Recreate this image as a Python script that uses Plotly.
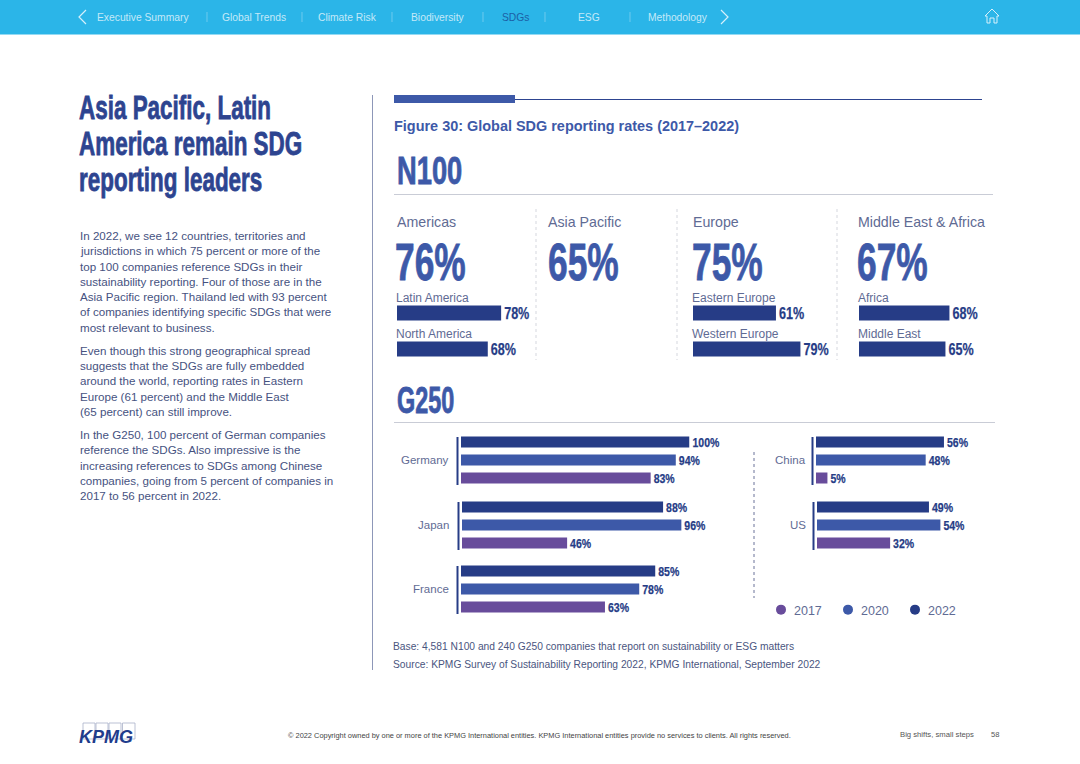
import plotly.graph_objects as go

# ---- data ----
regions = ["Americas", "Asia Pacific", "Europe", "Middle East & Africa"]
region_rates = [76, 65, 75, 67]
sub_regions = [["Latin America", "North America"], [], ["Eastern Europe", "Western Europe"], ["Africa", "Middle East"]]
sub_rates = [[78, 68], [], [61, 79], [68, 65]]
countries = ["Germany", "Japan", "France", "China", "US"]
years = ["2017", "2020", "2022"]
rates_2017 = [83, 46, 63, 5, 32]
rates_2020 = [94, 96, 78, 48, 54]
rates_2022 = [100, 88, 85, 56, 49]
nav_items = ["Executive Summary", "Global Trends", "Climate Risk", "Biodiversity", "SDGs", "ESG", "Methodology"]
body_lines = [
    "In 2022, we see 12 countries, territories and", "jurisdictions in which 75 percent or more of the",
    "top 100 companies reference SDGs in their", "sustainability reporting. Four of those are in the",
    "Asia Pacific region. Thailand led with 93 percent", "of companies identifying specific SDGs that were",
    "most relevant to business.", None,
    "Even though this strong geographical spread", "suggests that the SDGs are fully embedded",
    "around the world, reporting rates in Eastern", "Europe (61 percent) and the Middle East",
    "(65 percent) can still improve.", None,
    "In the G250, 100 percent of German companies", "reference the SDGs. Also impressive is the",
    "increasing references to SDGs among Chinese", "companies, going from 5 percent of companies in",
    "2017 to 56 percent in 2022.",
]

# ---- styling ----
W, H = 1080, 764
NAVY, BLUE, PURPLE, CYAN = "#263c86", "#3d59a8", "#684c9b", "#2bb5e8"
HEAD = "#2d4490"
GREY = "#5f6b94"
NARROW = "Liberation Sans, Arimo"   # squeezed horizontally in post_script below
SANS = "Liberation Sans"

fx = lambda p: p / W
fy = lambda p: 1 - p / H
ann, shapes = [], []


def T(x, y, text, size, color=GREY, font=SANS, anchor="left", bold=False, italic=False):
    f = dict(size=size, color=color, family=font)
    if bold:
        f["weight"] = 700
    if italic:
        f["style"] = "italic"
    ann.append(dict(x=fx(x), y=fy(y), xref="paper", yref="paper", text=text, showarrow=False,
                    xanchor=anchor, yanchor="middle", font=f, borderpad=0, borderwidth=0))


def R(x0, y0, x1, y1, fill=None, line=None, lw=0):
    s = dict(type="rect", xref="paper", yref="paper", x0=fx(x0), x1=fx(x1), y0=fy(y0), y1=fy(y1), layer="below")
    s["fillcolor"] = fill or "rgba(0,0,0,0)"
    s["line"] = dict(color=line or "rgba(0,0,0,0)", width=lw)
    shapes.append(s)


def L(x0, y0, x1, y1, color, w=1, dash="solid"):
    shapes.append(dict(type="line", xref="paper", yref="paper", x0=fx(x0), x1=fx(x1), y0=fy(y0), y1=fy(y1),
                       line=dict(color=color, width=w, dash=dash), layer="below"))


fig = go.Figure()
axes = {}
n_ax = 0


def panel(cats, vals, colors, x0, px_per_pct, top, bottom, bar_frac, tsize):
    global n_ax
    n_ax += 1
    sfx = "" if n_ax == 1 else str(n_ax)
    fig.add_trace(go.Bar(
        x=vals, y=cats, orientation="h", marker=dict(color=colors, line=dict(width=0)),
        width=bar_frac, text=[f"{v}%" for v in vals], textposition="outside", cliponaxis=False,
        constraintext="none",
        textfont=dict(family=NARROW, size=tsize, color=NAVY, weight=700),
        showlegend=False, hoverinfo="skip", xaxis=f"x{sfx}", yaxis=f"y{sfx}",
    ))
    axes[f"xaxis{sfx}"] = dict(domain=[fx(x0), fx(x0 + 100 * px_per_pct)], range=[0, 100], visible=False,
                               anchor=f"y{sfx}", fixedrange=True)
    axes[f"yaxis{sfx}"] = dict(domain=[fy(bottom), fy(top)], type="category", categoryorder="array",
                               categoryarray=cats, range=[len(cats) - 0.5, -0.5], visible=False,
                               anchor=f"x{sfx}", fixedrange=True)


# ---- N100 ----
label_x = [397, 548, 693, 858]
big_x = [395, 548, 692, 857]
bar_x = [397, None, 693, 859]
sub_x = [396, None, 692, 858]
scale = [1.335, None, 1.36, 1.33]
for i, name in enumerate(regions):
    T(label_x[i], 222, name, 14.2)
    T(big_x[i], 261.5, f"{region_rates[i]}%", 52, color=BLUE, font=NARROW, bold=True)
    if sub_rates[i]:
        panel(sub_regions[i], sub_rates[i], [NAVY, NAVY], bar_x[i], scale[i], 295, 367, 15 / 36, 17)
        T(sub_x[i], 297.5, sub_regions[i][0], 12)
        T(sub_x[i], 333.5, sub_regions[i][1], 12)

# ---- G250 ----
tops = [433, 498, 562, 433, 498]
starts = [461, 462, 461, 816, 817]
label_right = [449, 449, 449, 806, 806]
for i, c in enumerate(countries):
    panel(["2022", "2020", "2017"], [rates_2022[i], rates_2020[i], rates_2017[i]], [NAVY, BLUE, PURPLE],
          starts[i], 2.285, tops[i], tops[i] + 54, 11 / 18, 13.5)
    lx = starts[i] - 3.5
    L(lx, tops[i] + 4, lx, tops[i] + 52, NAVY, 2)
    T(label_right[i], tops[i] + 27, c, 11.5, anchor="right")

# ---- legend (real entries, circular keys) ----
for yr, col in zip(years, [PURPLE, BLUE, NAVY]):
    fig.add_trace(go.Scatter(x=[None], y=[None], mode="markers", name=yr, xaxis="x", yaxis="y",
                             marker=dict(color=col, size=10, symbol="circle"), hoverinfo="skip"))

# ---- page furniture ----
R(0, 0, W, 34.5, fill=CYAN)
nav_x = [97, 222, 318, 411, 502, 578, 648]
for x, t in zip(nav_x, nav_items):
    T(x, 17.5, t, 10.3, color="#1c5fa6" if t == "SDGs" else "#c4e9f8")
for x in [207, 302, 392, 483, 545, 630]:
    L(x, 12, x, 22, "#7fd0f0", 0.8)
shapes.append(dict(type="path", xref="paper", yref="paper", layer="below",
                   path=f"M {fx(86)} {fy(10)} L {fx(79)} {fy(17)} L {fx(86)} {fy(24)}",
                   line=dict(color="#d6f0fb", width=1.2)))
shapes.append(dict(type="path", xref="paper", yref="paper", layer="below",
                   path=f"M {fx(721)} {fy(10)} L {fx(728)} {fy(17)} L {fx(721)} {fy(24)}",
                   line=dict(color="#d6f0fb", width=1.2)))
shapes.append(dict(type="path", xref="paper", yref="paper", layer="below",
                   path=f"M {fx(985)} {fy(16)} L {fx(992)} {fy(9)} L {fx(999)} {fy(16)} L {fx(997)} {fy(16)} "
                        f"L {fx(997)} {fy(23)} L {fx(994)} {fy(23)} L {fx(994)} {fy(18)} L {fx(990)} {fy(18)} "
                        f"L {fx(990)} {fy(23)} L {fx(987)} {fy(23)} L {fx(987)} {fy(16)} Z",
                   line=dict(color="#d6f0fb", width=1)))

for y, t in zip([108, 144, 180], ["Asia Pacific, Latin", "America remain SDG", "reporting leaders"]):
    T(79, y, t, 33, color=HEAD, font=NARROW, bold=True)

y = 235.5
for line in body_lines:
    if line is None:
        y += 8
        continue
    T(80, y, line, 11.6, color="#46527f")
    y += 15.25

L(372.5, 95, 372.5, 670, "#8d97b8", 1)
R(394, 95, 515, 103, fill=BLUE)
L(515, 99.5, 982, 99.5, HEAD, 1.2)
T(394, 126, "Figure 30: Global SDG reporting rates (2017–2022)", 14.45, color=BLUE, bold=True)
T(397, 170, "N100", 39, color=BLUE, font=NARROW, bold=True)
L(394, 194.5, 993, 194.5, "#c9ccd6", 1)
T(397, 400, "G250", 36, color=BLUE, font=NARROW, bold=True)
L(394, 422.5, 995, 422.5, "#c9ccd6", 1)
for x in [536, 677, 837]:
    L(x, 209, x, 360, "#d5d7de", 1, "3px,3px")
L(754, 452, 754, 598, "#6b7399", 1, "dot")

T(393, 646, "Base: 4,581 N100 and 240 G250 companies that report on sustainability or ESG matters", 10.25, color="#4a5580")
T(393, 664, "Source: KPMG Survey of Sustainability Reporting 2022, KPMG International, September 2022", 10.25, color="#4a5580")

# footer
for a, b in [(83, 95), (96, 108), (109, 121), (122.5, 135)]:
    R(a, 723, b, 739, line="#a9b1c9", lw=0.8)
T(79, 737, "KPMG", 18, color="#1f3c8c", font="Liberation Sans", bold=True, italic=True)
T(288, 735, "© 2022 Copyright owned by one or more of the KPMG International entities. KPMG International entities provide no services to clients. All rights reserved.",
  7.42, color="#444444")
T(900, 734, "Big shifts, small steps", 7.7, color="#555555")
T(991, 734, "58", 7.6, color="#555555")

fig.update_layout(
    width=W, height=H, margin=dict(l=0, r=0, t=0, b=0, autoexpand=False), paper_bgcolor="white",
    plot_bgcolor="rgba(0,0,0,0)",
    barmode="overlay", annotations=ann, shapes=shapes,
    legend=dict(orientation="h", x=fx(761), y=fy(610), xanchor="left", yanchor="middle", entrywidth=22,
                entrywidthmode="pixels", font=dict(family=SANS, size=12.5, color=GREY),
                bgcolor="rgba(0,0,0,0)", itemclick=False, itemdoubleclick=False),
    **axes,
)

# The original's display face is a heavy condensed one that is not installed: squeeze the same real text.
squeeze = """
document.body.style.margin='0';document.body.style.overflow='hidden';
var K={52:0.68,39:0.70,36:0.65,33:0.68,17:0.74,13.5:0.78};
document.querySelectorAll('text').forEach(function(el){
  if(!el.style.fontFamily.includes('Arimo')) return;
  var size=parseFloat(el.style.fontSize), k=K[size]||0.72;
  var w=el.getComputedTextLength(), w2=w*k;
  el.setAttribute('lengthAdjust','spacingAndGlyphs');
  el.setAttribute('textLength',w2);
  el.setAttribute('x',parseFloat(el.getAttribute('x')||0)-(w-w2)/2);
  el.style.stroke=el.style.fill; el.style.strokeWidth=size>=30?'0.8px':'0.25px';
});
document.querySelectorAll('.legend .scrollbox').forEach(function(b){b.removeAttribute('clip-path');});
document.querySelectorAll('.legendtext').forEach(function(t){t.setAttribute('x',parseFloat(t.getAttribute('x'))-7);});
"""
fig.write_html("out.html", config=dict(displayModeBar=False), post_script=squeeze)
